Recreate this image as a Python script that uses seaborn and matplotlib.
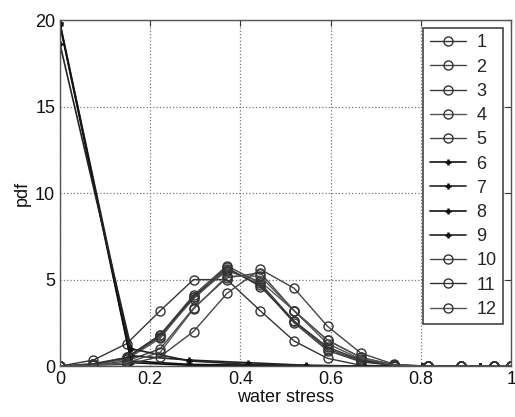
import numpy as np
import pandas as pd
import matplotlib
matplotlib.use('Agg')
import matplotlib.pyplot as plt
import seaborn as sns

# x positions of the two groups of curves
x_circ = [0, 0.074, 0.148, 0.222, 0.296, 0.370, 0.444, 0.519, 0.593, 0.667, 0.741, 0.815, 0.889, 0.963, 1.0]
x_plus = [0, 0.158, 0.287, 0.416, 0.545, 0.674, 0.803, 0.932]

# pdf values
s1 = [0, 0.35, 1.3, 3.2, 5.0, 5.0, 3.2, 1.45, 0.45, 0.05, 0, 0, 0, 0, 0]
s2 = [0, 0.15, 0.5, 1.8, 4.1, 5.8, 4.8, 2.6, 1.0, 0.3, 0.05, 0, 0, 0, 0]
s3 = [0, 0.1, 0.45, 1.7, 3.9, 5.6, 4.7, 2.5, 0.9, 0.25, 0.03, 0, 0, 0, 0]
s4 = [0, 0.1, 0.4, 1.6, 4.0, 5.5, 4.9, 3.2, 1.3, 0.4, 0.05, 0, 0, 0, 0]
s5 = [0, 0.05, 0.3, 1.0, 3.35, 5.1, 5.4, 3.2, 1.5, 0.5, 0.08, 0, 0, 0, 0]
s6 = [19.8, 0.3, 0.1, 0.05, 0.02, 0, 0, 0]
s7 = [19.8, 0.6, 0.35, 0.2, 0.05, 0, 0, 0]
s8 = [19.7, 0.2, 0.05, 0.02, 0, 0, 0, 0]
s9 = [18.6, 1.0, 0.3, 0.1, 0.03, 0, 0, 0]
s10 = [0, 0.05, 0.1, 0.55, 2.0, 4.2, 5.6, 4.5, 2.3, 0.75, 0.1, 0, 0, 0, 0]
s11 = [0, 0.1, 0.5, 1.8, 4.0, 5.7, 4.6, 2.6, 1.1, 0.35, 0.05, 0, 0, 0, 0]
s12 = [0, 0.05, 0.2, 0.8, 3.3, 5.2, 5.2, 3.2, 1.5, 0.5, 0.05, 0, 0, 0, 0]

series = [s1, s2, s3, s4, s5, s6, s7, s8, s9, s10, s11, s12]
labels = [str(i) for i in range(1, 13)]
colors = ['#333333', '#444444', '#3a3a3a', '#555555', '#444444', '#111111',
          '#222222', '#111111', '#222222', '#444444', '#333333', '#555555']

sns.set_style('white')
plt.rcParams['font.family'] = ['Liberation Sans', 'DejaVu Sans']

fig = plt.figure(figsize=(5.15, 4.17), dpi=100)
ax = fig.add_axes([0.1165, 0.122, 0.876, 0.83])

for lab, vals, col in zip(labels, series, colors):
    if len(vals) == len(x_circ):
        df = pd.DataFrame({'x': x_circ, 'y': vals})
        sns.lineplot(data=df, x='x', y='y', ax=ax, color=col, lw=1.0, label=lab,
                     marker='o', markersize=6.5, markerfacecolor='none',
                     markeredgecolor='#333333', markeredgewidth=1.0, sort=False)
    else:
        df = pd.DataFrame({'x': x_plus, 'y': vals})
        sns.lineplot(data=df, x='x', y='y', ax=ax, color=col, lw=1.2, label=lab,
                     marker='+', markersize=5, markeredgecolor='#111111',
                     markeredgewidth=1.8, sort=False)

ax.set_xlim(0, 1)
ax.set_ylim(0, 20)
ax.set_xticks([0, 0.2, 0.4, 0.6, 0.8, 1])
ax.set_xticklabels(['0', '0.2', '0.4', '0.6', '0.8', '1'])
ax.set_yticks([0, 5, 10, 15, 20])
ax.grid(True, linestyle=':', color='#777777', linewidth=0.9)
ax.tick_params(direction='in', length=4, labelsize=13, color='#333333',
               top=True, right=True, labelcolor='#111111')
for sp in ax.spines.values():
    sp.set_color('#555555')
    sp.set_linewidth(1.0)
ax.set_xlabel('water stress', fontsize=13, labelpad=1, color='#111111')
ax.set_ylabel('pdf', fontsize=13, labelpad=3, color='#111111')

leg = ax.legend(loc='upper right', fontsize=13, frameon=True, fancybox=False,
                edgecolor='#444444', framealpha=1, handlelength=2.0,
                labelspacing=0.4, borderaxespad=0.45, handletextpad=0.6,
                borderpad=0.35)
leg.get_frame().set_linewidth(1.2)

fig.savefig('out.png', dpi=100)
